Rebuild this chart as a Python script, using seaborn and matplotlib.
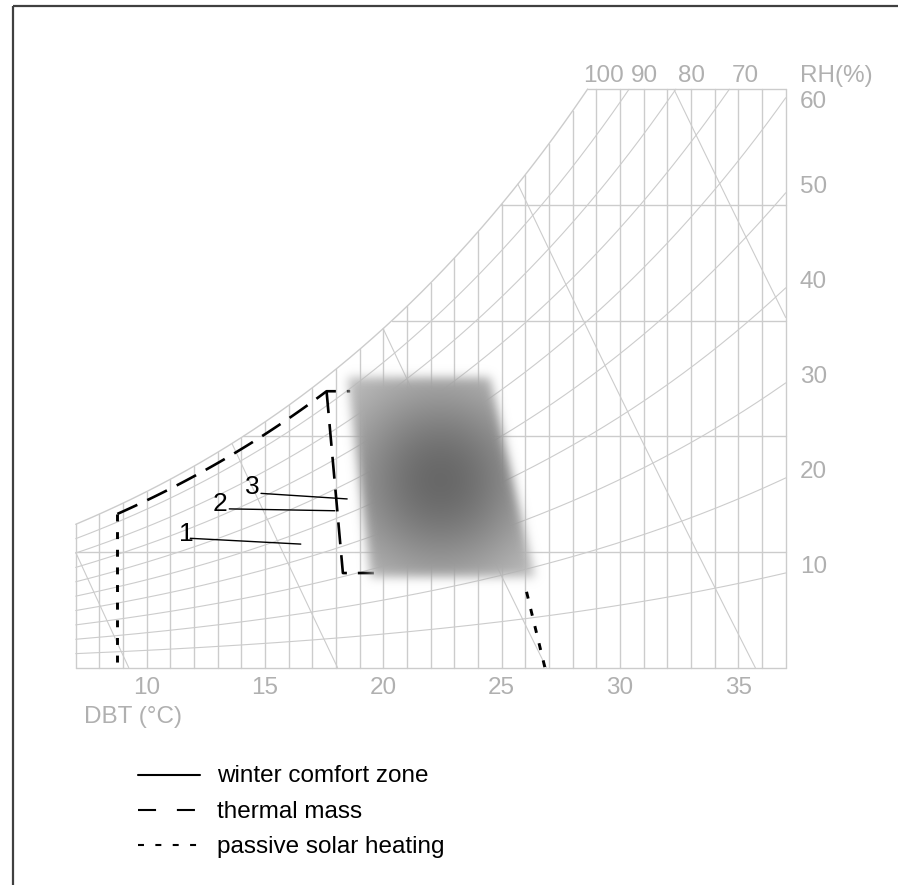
import numpy as np
import pandas as pd
import matplotlib.pyplot as plt
import seaborn as sns
from matplotlib.path import Path

# psychrometric chart, sea level
P_ATM = 101.325

dbt_ticks = [10, 15, 20, 25, 30, 35]
dbt_grid = list(range(7, 38))
w_grid = [0, 5, 10, 15, 20, 25]
rh_curves = [10, 20, 30, 40, 50, 60, 70, 80, 90]
rh_top_labels = [100, 90, 80, 70]
rh_side_labels = [60, 50, 40, 30, 20, 10]
volume_lines = [0.80, 0.825, 0.85, 0.875, 0.90]

# winter comfort zone (dbt degC, humidity ratio g/kg)
comfort_T = [18.46, 24.50, 26.40, 19.43]
comfort_w = [12.56, 12.56, 3.89, 3.89]
comfort_centre = (22.4, 8.1)

# thermal mass boundary: follows RH 95 %, then drops to the comfort zone
thermal_rh = 95
thermal_T_left, thermal_T_corner = 8.76, 17.6
thermal_cap_T = 18.6
thermal_side_T = [18.29, 19.6]
thermal_side_w = [4.10, 4.10]

# passive solar heating
solar_left_T = 8.76
solar_right_T = [26.05, 26.83]
solar_right_w = [3.29, 0.0]

zone_labels = ["1", "2", "3"]
label_T = [11.66, 13.10, 14.45]
label_w = [5.79, 7.08, 7.82]
leader_T = [(11.84, 16.51), (13.49, 17.95), (14.83, 18.47)]
leader_w = [(5.60, 5.35), (6.87, 6.79), (7.54, 7.30)]

legend_labels = ["winter comfort zone", "thermal mass", "passive solar heating"]


def w_sat(T):
    pws = 0.61094 * np.exp(17.625 * T / (T + 243.04))
    return 622.0 * pws / (P_ATM - pws)


def t_sat(w):
    pws = w / 1000 * P_ATM / (0.622 + w / 1000)
    a = np.log(pws / 0.61094)
    return 243.04 * a / (17.625 - a)


def w_volume(v, T):
    return (v * P_ATM / (0.287042 * (T + 273.15)) - 1) / 1.607858 * 1000


sns.set_theme(style="white")
plt.rcParams["font.family"] = ["Liberation Sans", "DejaVu Sans"]
plt.rcParams["lines.scale_dashes"] = False

W, H = 898, 885
fig = plt.figure(figsize=(W / 100, H / 100), dpi=100)

# pixel overlay for frame and legend
fx = fig.add_axes([0, 0, 1, 1])
fx.set_xlim(0, W)
fx.set_ylim(H, 0)
fx.axis("off")
fx.plot([13, W], [6, 6], color="#404040", lw=1.6, solid_capstyle="butt")
fx.plot([13, 13], [6, H], color="#404040", lw=1.6, solid_capstyle="butt")

ax = fig.add_axes([75.7 / W, (H - 668) / H, 710 / W, 579 / H])
ax.patch.set_visible(False)
ax.set_xlim(7, 37)
ax.set_ylim(0, 25)
ax.axis("off")
px_T = 710 / 30
px_w = 579 / 25

# grid segments
grid = []
for t in dbt_grid:
    grid.append(pd.DataFrame({"T": [t, t], "w": [0, min(w_sat(t), 25)], "id": f"v{t}"}))
for w in w_grid:
    t0 = 7 if w == 0 else max(7, t_sat(w))
    grid.append(pd.DataFrame({"T": [t0, 37], "w": [w, w], "id": f"h{w}"}))
Ts = np.linspace(7, t_sat(25), 300)
grid.append(pd.DataFrame({"T": Ts, "w": w_sat(Ts), "id": "sat"}))
grid = pd.concat(grid)

curves = []
Tf = np.linspace(7, 37, 3000)
for rh in rh_curves:
    w = rh / 100 * w_sat(Tf)
    m = w <= 25
    curves.append(pd.DataFrame({"T": Tf[m], "w": w[m], "id": f"rh{rh}"}))
for v in volume_lines:
    w = w_volume(v, Tf)
    m = (w >= 0) & (w <= np.minimum(w_sat(Tf), 25))
    curves.append(pd.DataFrame({"T": Tf[m], "w": w[m], "id": f"vol{v}"}))
curves = pd.concat(curves)

sns.lineplot(data=grid, x="T", y="w", units="id", estimator=None, sort=False,
             color="#cccccc", lw=1.0, ax=ax, clip_on=False, zorder=1)
sns.lineplot(data=curves, x="T", y="w", units="id", estimator=None, sort=False,
             color="#cccccc", lw=0.8, ax=ax, clip_on=False, zorder=1)

# comfort zone as a soft grey blob
nx, ny = int(12 * px_T), int(13.5 * px_w)
Tg, wg = np.meshgrid(np.linspace(16.5, 28.5, nx), np.linspace(1.5, 15, ny))
poly = Path(np.column_stack([comfort_T, comfort_w]))
mask = poly.contains_points(np.column_stack([Tg.ravel(), wg.ravel()])).reshape(Tg.shape).astype(float)
s = 5.0
r = int(3 * s)
k = np.exp(-np.arange(-r, r + 1) ** 2 / (2 * s * s))
k /= k.sum()
mask = np.apply_along_axis(lambda a: np.convolve(a, k, mode="same"), 0, mask)
mask = np.apply_along_axis(lambda a: np.convolve(a, k, mode="same"), 1, mask)
d = np.hypot((Tg - comfort_centre[0]) * px_T, (wg - comfort_centre[1]) * px_w)
g = 0.82 - 0.41 * np.exp(-d ** 2 / (2 * 75 ** 2))
rgba = np.dstack([g, g, g, np.clip(mask, 0, 1)])
ax.imshow(rgba, extent=(16.5, 28.5, 1.5, 15), origin="lower", aspect="auto",
          interpolation="bilinear", zorder=3)

# thermal mass
long_dash = dict(color="black", lw=1.9, dashes=(15.8, 7.9), zorder=2, clip_on=False)
Tu = np.linspace(thermal_T_left, thermal_T_corner, 100)
wu = thermal_rh / 100 * w_sat(Tu)
ax.plot(list(Tu) + [thermal_cap_T], list(wu) + [wu[-1]], **long_dash)
ax.plot([thermal_T_corner] + thermal_side_T, [wu[-1]] + thermal_side_w, **long_dash)

# passive solar heating
short_dash = dict(color="black", lw=2.1, dashes=(5.0, 7.7), zorder=2, clip_on=False)
ax.plot([solar_left_T, solar_left_T], [thermal_rh / 100 * w_sat(solar_left_T), 0], **short_dash)
ax.plot(solar_right_T, solar_right_w, **short_dash)

for lab, t, w, lt, lw_ in zip(zone_labels, label_T, label_w, leader_T, leader_w):
    ax.text(t, w, lab, ha="center", va="center", fontsize=19, color="black")
    ax.plot(lt, lw_, color="black", lw=1.0, zorder=2)

grey = "#b0b0b0"
for t in dbt_ticks:
    ax.text(t, -1.12, str(t), ha="center", va="baseline", fontsize=17.5, color=grey)
ax.text(7.35, -2.37, "DBT (°C)", ha="left", va="baseline", fontsize=17.5, color=grey)
# top RH labels sit where each curve would cross the label row
for rh in rh_top_labels:
    ax.text(t_sat(25.7 * 100 / rh) + 0.2, 25.32, str(rh), ha="center", va="baseline",
            fontsize=17.5, color=grey)
ax.text(37.6, 25.32, "RH(%)", ha="left", va="baseline", fontsize=17.5, color=grey)
for rh in rh_side_labels:
    ax.text(37.6, min(rh / 100 * w_sat(37), 24.2), str(rh), ha="left", va="baseline",
            fontsize=17.5, color=grey)

# legend
fx.plot([138, 200], [775, 775], color="black", lw=1.5)
fx.plot([138, 200], [810, 810], color="black", lw=1.5, dashes=(13, 15), dash_capstyle="butt")
fx.plot([138, 200], [845, 845], color="black", lw=1.5, dashes=(4.3, 8.2), dash_capstyle="butt")
for lab, yb in zip(legend_labels, [782, 817.5, 853]):
    fx.text(217, yb, lab, ha="left", va="baseline", fontsize=17.5, color="black")

fig.savefig("out.png", dpi=100)
